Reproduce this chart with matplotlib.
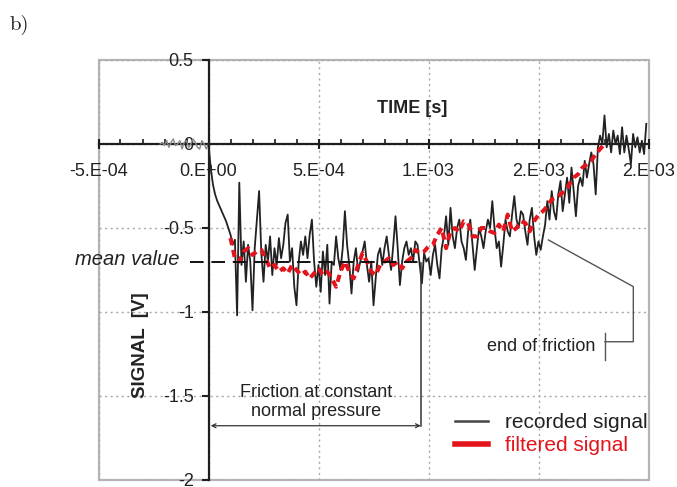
import matplotlib
matplotlib.use('Agg')
import matplotlib.pyplot as plt
import numpy as np
from matplotlib.lines import Line2D
from matplotlib.patches import Rectangle
from matplotlib.ticker import FixedLocator, FixedFormatter, MultipleLocator

plt.rcParams['font.family'] = ['Liberation Sans', 'DejaVu Sans']

# ---------------- data ----------------
dt = 1e-5
pre_signal = [0.00, 0.01, -0.01, 0.02, -0.02, 0.01, 0.03, -0.01, 0.00, 0.02, -0.03,
              0.01, 0.02, -0.02, 0.00, 0.03, 0.01, -0.02, -0.03, 0.02, 0.00, -0.03]

recorded_signal = [
    0.00, -0.14, -0.24, -0.30, -0.34, -0.37, -0.40, -0.43, -0.46, -0.50,
    -0.54, -0.60, -0.57, -1.02, -0.23, -0.72, -0.58, -0.82, -0.60, -0.70,
    -0.99, -0.62, -0.45, -0.28, -0.65, -0.82, -0.60, -0.70, -0.55, -0.78,
    -0.62, -0.72, -0.56, -0.68, -0.60, -0.47, -0.42, -0.70, -0.62, -0.85,
    -0.96, -0.70, -0.58, -0.66, -0.55, -0.68, -0.54, -0.45, -0.70, -0.85,
    -0.72, -0.88, -0.64, -0.78, -0.60, -0.95, -0.70, -0.72, -0.55, -0.68,
    -0.75, -0.62, -0.40, -0.60, -0.72, -0.89, -0.70, -0.62, -0.76, -0.70,
    -0.64, -0.58, -0.72, -0.82, -0.70, -0.96, -0.80, -0.66, -0.62, -0.72,
    -0.62, -0.55, -0.66, -0.75, -0.60, -0.43, -0.62, -0.84, -0.70, -0.62,
    -0.58, -0.66, -0.62, -0.70, -0.58, -0.60, -0.72, -0.83, -0.65, -0.70,
    -0.68, -0.78, -0.66, -0.60, -0.72, -0.80, -0.62, -0.55, -0.43, -0.60,
    -0.38, -0.55, -0.62, -0.50, -0.45, -0.58, -0.62, -0.69, -0.52, -0.45,
    -0.60, -0.75, -0.62, -0.50, -0.55, -0.62, -0.52, -0.45, -0.50, -0.34,
    -0.50, -0.62, -0.58, -0.73, -0.60, -0.45, -0.52, -0.55, -0.42, -0.31,
    -0.45, -0.50, -0.40, -0.42, -0.52, -0.60, -0.45, -0.38, -0.55, -0.66,
    -0.58, -0.63, -0.55, -0.48, -0.34, -0.45, -0.28, -0.40, -0.45, -0.30,
    -0.22, -0.40, -0.30, -0.20, -0.35, -0.14, -0.28, -0.43, -0.25, -0.20,
    -0.25, -0.10, -0.20, -0.12, -0.05, -0.12, -0.30, -0.02, 0.05, 0.00,
    0.17, -0.02, 0.06, -0.05, 0.08, 0.00, 0.05, -0.06, 0.10, -0.05,
    0.05, -0.03, -0.12, 0.06, -0.02, 0.04, -0.05, 0.02, -0.06, 0.12,
]

filtered_start = 1e-4
filtered_dt = 2e-5
filtered_signal = [
    -0.56, -0.68, -0.70, -0.64, -0.62, -0.66, -0.64, -0.63, -0.68, -0.74,
    -0.72, -0.76, -0.74, -0.77, -0.72, -0.75, -0.78, -0.76, -0.80, -0.77,
    -0.74, -0.78, -0.76, -0.80, -0.85, -0.76, -0.70, -0.76, -0.80, -0.72,
    -0.65, -0.70, -0.76, -0.78, -0.72, -0.70, -0.68, -0.72, -0.70, -0.74,
    -0.70, -0.68, -0.63, -0.65, -0.64, -0.61, -0.60, -0.54, -0.50, -0.62,
    -0.52, -0.50, -0.52, -0.46, -0.47, -0.55, -0.55, -0.50, -0.50, -0.52,
    -0.53, -0.48, -0.52, -0.42, -0.52, -0.50, -0.46, -0.47, -0.52, -0.46,
    -0.42, -0.40, -0.37, -0.33, -0.32, -0.30, -0.28, -0.24, -0.20, -0.18,
    -0.14, -0.12, -0.10, -0.06, -0.03, 0.00,
]

mean_value = -0.70
mean_span = [-0.85e-4, 0.95e-3]
friction_span = [0.0, 0.965e-3]
friction_arrow_y = -1.677
end_point = [1.545e-3, -0.571]

x_ticks = [-5e-4, 0.0, 5e-4, 1e-3, 1.5e-3, 2e-3]
x_tick_labels = ["-5.E-04", "0.E+00", "5.E-04", "1.E-03", "2.E-03", "2.E-03"]
y_ticks = [0.5, 0.0, -0.5, -1.0, -1.5, -2.0]
y_tick_labels = ["0.5", "0", "-0.5", "-1", "-1.5", "-2"]

# ---------------- figure ----------------
W, H = 677, 487
fig = plt.figure(figsize=(W / 100, H / 100), dpi=100)
ax = fig.add_axes([98.5 / W, 1 - 480 / H, 550 / W, 420 / H])
ax.set_xlim(-5e-4, 2e-3)
ax.set_ylim(-2, 0.5)

pre_time = (np.arange(-len(pre_signal), 1)) * dt
rec_time = np.arange(len(recorded_signal)) * dt
fil_time = filtered_start + np.arange(len(filtered_signal)) * filtered_dt

ax.plot(pre_time, pre_signal + [recorded_signal[0]], color='#8a8a8a', lw=1.0, zorder=3)
ax.plot(rec_time, recorded_signal, color='#222222', lw=1.3, zorder=3)
ax.plot(fil_time, filtered_signal, color='#e3141b', lw=2.9,
        linestyle=(0, (1.8, 1.2)), zorder=4)

# mean line
ax.plot(mean_span, [mean_value, mean_value], color='#111111', lw=1.4,
        linestyle=(0, (7, 4)), zorder=5)
ax.text(-1.3e-4, mean_value + 0.01, 'mean value', ha='right', va='center',
        fontsize=14.5, style='italic', color='#222222')

# friction bracket
ax.plot([friction_span[1], friction_span[1]], [mean_value - 0.01, friction_arrow_y],
        color='#333333', lw=1.1, zorder=5)
ax.annotate('', xy=(friction_span[0] + 0.01e-3, friction_arrow_y),
            xytext=(friction_span[1], friction_arrow_y),
            arrowprops=dict(arrowstyle='<->', color='#333333', lw=0.9,
                            shrinkA=0, shrinkB=0, mutation_scale=7))
ax.text(0.49e-3, -1.537, 'Friction at constant\nnormal pressure', ha='center',
        va='center', fontsize=13, linespacing=1.15, color='#222222')

# end of friction
ax.plot([end_point[0], 1.931e-3, 1.931e-3, 1.802e-3],
        [end_point[1], -0.849, -1.177, -1.177], color='#555555', lw=1.0, zorder=5)
ax.plot([1.802e-3, 1.802e-3], [-1.127, -1.286], color='#555555', lw=1.0, zorder=5)
ax.text(1.511e-3, -1.208, 'end of friction', ha='center', va='center',
        fontsize=13, color='#222222')

# axis titles
ax.text(0.925e-3, 0.214, 'TIME [s]', ha='center', va='center', fontsize=13,
        fontweight='bold', color='#222222')
ax.text(-3.11e-4, -1.196, 'SIGNAL  [V]', ha='center', va='center', fontsize=13.5,
        fontweight='bold', rotation=90, color='#222222')

# frame, spines, grid
for s in ['top', 'right']:
    ax.spines[s].set_visible(False)
ax.add_patch(Rectangle((0, 0), 1, 1, transform=ax.transAxes, fill=False,
                       ec='#b5b5b5', lw=1.6, clip_on=False, zorder=0.5))
ax.spines['left'].set_position(('data', 0))
ax.spines['bottom'].set_position(('data', 0))
for s in ['left', 'bottom']:
    ax.spines[s].set_color('#1e1e1e')
    ax.spines[s].set_linewidth(1.6)
    ax.spines[s].set_zorder(2.5)

ax.xaxis.set_major_locator(FixedLocator(x_ticks))
ax.xaxis.set_major_formatter(FixedFormatter(x_tick_labels))
ax.xaxis.set_minor_locator(MultipleLocator(1e-4))
ax.yaxis.set_major_locator(FixedLocator(y_ticks))
ax.yaxis.set_major_formatter(FixedFormatter(y_tick_labels))

ax.tick_params(axis='x', which='major', direction='inout', length=7, width=1.5,
               pad=10, labelsize=13, color='#1e1e1e', labelcolor='#222222')
ax.tick_params(axis='x', which='minor', direction='in', length=3.5, width=1.2,
               color='#1e1e1e')
ax.tick_params(axis='y', which='major', direction='out', length=4.7, width=1.5,
               pad=6, labelsize=13, color='#1e1e1e', labelcolor='#222222')

ax.grid(True, which='major', linestyle=(0, (1.5, 2.5)), color='#a8a8a8', lw=1.0)
ax.set_axisbelow(True)

# legend
handles = [Line2D([], [], color='#444444', lw=1.8),
           Line2D([], [], color='#e3141b', lw=4)]
leg = ax.legend(handles, ['recorded signal', 'filtered signal'], loc='center left',
                bbox_to_anchor=(0.648, 0.1098), frameon=False, fontsize=15,
                handlelength=1.6, handletextpad=0.8, labelspacing=0.2,
                borderaxespad=0, borderpad=0)
leg.get_texts()[0].set_color('#222222')
leg.get_texts()[1].set_color('#e3141b')

fig.text(10 / W, 1 - 25 / H, 'b)', fontfamily='cmr10', fontsize=15, va='center',
         ha='left', color='#222222')

fig.savefig('out.png', dpi=100)
